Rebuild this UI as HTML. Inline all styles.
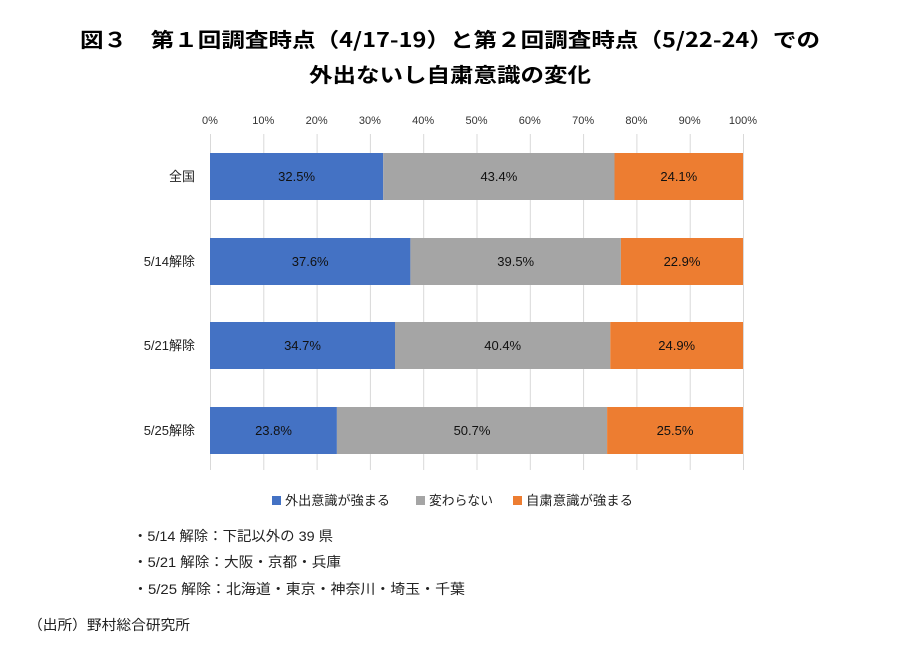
<!DOCTYPE html>
<html><head><meta charset="utf-8"><style>
body{margin:0;background:#fff}
svg{display:block;font-family:"Liberation Sans","Noto Sans CJK JP",sans-serif}
.t{font-family:"Noto Sans CJK JP",sans-serif;font-weight:bold;font-size:20px;fill:#000}
.j{font-family:"Liberation Sans","Noto Sans CJK JP",sans-serif;font-size:13px;fill:#222}
.f{font-family:"Liberation Sans","Noto Sans CJK JP",sans-serif;font-size:14px;fill:#222}
</style></head><body>
<svg width="900" height="650" viewBox="0 0 900 650">
<text class="t" x="450" y="47" text-anchor="middle" textLength="740" lengthAdjust="spacingAndGlyphs">図３　第１回調査時点（4/17-19）と第２回調査時点（5/22-24）での</text>
<text class="t" x="450" y="82" text-anchor="middle" textLength="282" lengthAdjust="spacingAndGlyphs">外出ないし自粛意識の変化</text>
<g stroke="#d9d9d9" stroke-width="1">
<line x1="210.5" y1="134" x2="210.5" y2="470"/><line x1="263.8" y1="134" x2="263.8" y2="470"/>
<line x1="317.1" y1="134" x2="317.1" y2="470"/><line x1="370.4" y1="134" x2="370.4" y2="470"/>
<line x1="423.7" y1="134" x2="423.7" y2="470"/><line x1="477" y1="134" x2="477" y2="470"/>
<line x1="530.3" y1="134" x2="530.3" y2="470"/><line x1="583.6" y1="134" x2="583.6" y2="470"/>
<line x1="636.9" y1="134" x2="636.9" y2="470"/><line x1="690.2" y1="134" x2="690.2" y2="470"/>
<line x1="743.5" y1="134" x2="743.5" y2="470"/>
</g>
<g font-size="11" fill="#333" text-anchor="middle">
<text x="210" y="124">0%</text><text x="263.3" y="124">10%</text><text x="316.6" y="124">20%</text>
<text x="369.9" y="124">30%</text><text x="423.2" y="124">40%</text><text x="476.5" y="124">50%</text>
<text x="529.8" y="124">60%</text><text x="583.1" y="124">70%</text><text x="636.4" y="124">80%</text>
<text x="689.7" y="124">90%</text><text x="743" y="124">100%</text>
</g>
<g>
<rect x="210" y="153" width="173.2" height="47" fill="#4472C4"/><rect x="383.2" y="153" width="231.3" height="47" fill="#A5A5A5"/><rect x="614.5" y="153" width="128.5" height="47" fill="#ED7D31"/>
<rect x="210" y="238" width="200.4" height="47" fill="#4472C4"/><rect x="410.4" y="238" width="210.5" height="47" fill="#A5A5A5"/><rect x="620.9" y="238" width="122.1" height="47" fill="#ED7D31"/>
<rect x="210" y="322" width="185" height="47" fill="#4472C4"/><rect x="395" y="322" width="215.3" height="47" fill="#A5A5A5"/><rect x="610.3" y="322" width="132.7" height="47" fill="#ED7D31"/>
<rect x="210" y="407" width="126.9" height="47" fill="#4472C4"/><rect x="336.9" y="407" width="270.2" height="47" fill="#A5A5A5"/><rect x="607.1" y="407" width="135.9" height="47" fill="#ED7D31"/>
</g>
<g font-size="13" fill="#111" text-anchor="middle">
<text x="296.6" y="181">32.5%</text><text x="498.9" y="181">43.4%</text><text x="678.8" y="181">24.1%</text>
<text x="310.2" y="266">37.6%</text><text x="515.7" y="266">39.5%</text><text x="682" y="266">22.9%</text>
<text x="302.5" y="350">34.7%</text><text x="502.7" y="350">40.4%</text><text x="676.7" y="350">24.9%</text>
<text x="273.5" y="435">23.8%</text><text x="472" y="435">50.7%</text><text x="675" y="435">25.5%</text>
</g>
<g class="j" text-anchor="end">
<text x="195" y="181">全国</text><text x="195" y="266">5/14解除</text><text x="195" y="350">5/21解除</text><text x="195" y="435">5/25解除</text>
</g>
<rect x="272" y="496" width="9" height="9" fill="#4472C4"/><text class="j" x="285" y="505" textLength="105" lengthAdjust="spacingAndGlyphs">外出意識が強まる</text>
<rect x="416" y="496" width="9" height="9" fill="#A5A5A5"/><text class="j" x="429" y="505" textLength="64" lengthAdjust="spacingAndGlyphs">変わらない</text>
<rect x="513" y="496" width="9" height="9" fill="#ED7D31"/><text class="j" x="526" y="505" textLength="107" lengthAdjust="spacingAndGlyphs">自粛意識が強まる</text>
<text class="f" x="133" y="541" textLength="200" lengthAdjust="spacingAndGlyphs">・5/14 解除：下記以外の 39 県</text>
<text class="f" x="133" y="567" textLength="208" lengthAdjust="spacingAndGlyphs">・5/21 解除：大阪・京都・兵庫</text>
<text class="f" x="133" y="594" textLength="332" lengthAdjust="spacingAndGlyphs">・5/25 解除：北海道・東京・神奈川・埼玉・千葉</text>
<text class="f" x="28" y="630" textLength="162" lengthAdjust="spacingAndGlyphs">（出所）野村総合研究所</text>
</svg>
</body></html>
